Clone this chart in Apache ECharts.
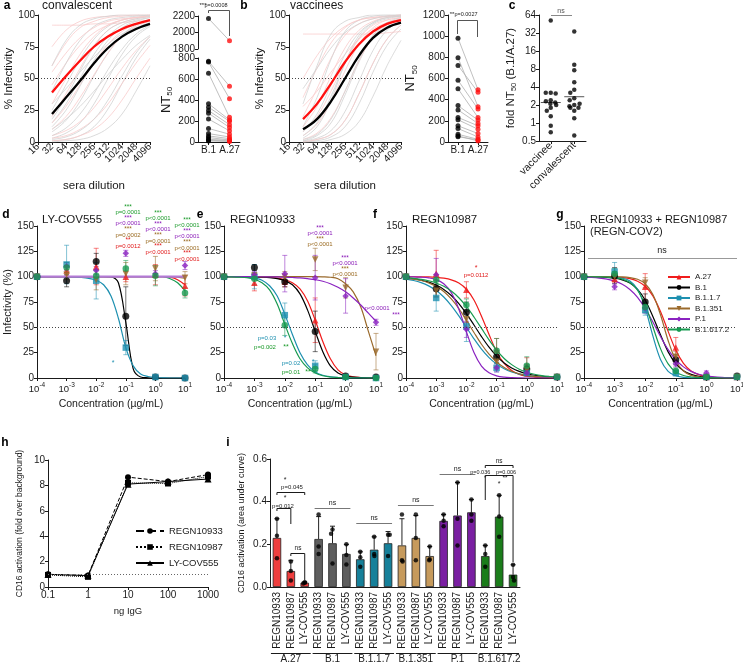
<!DOCTYPE html>
<html><head><meta charset="utf-8">
<script src="https://cdn.jsdelivr.net/npm/echarts@6/dist/echarts.min.js"></script>
<style>html,body{margin:0;padding:0;background:#fff}#c{width:743px;height:666px}</style>
</head><body><div id="c"></div><script>
const FONT = '"Liberation Sans", Arial, sans-serif';
const INK = '#1a1a1a';

// ---------- panels a / b : sera neutralisation ----------
const DILUTIONS = [32, 64, 128, 256, 512, 1024, 2048, 4096];
const convMeanB1 = [22, 35, 48, 62, 74, 83, 89, 93];
const convMeanA27 = [39, 52, 64, 75, 83, 89, 93, 96];
const convIndivB1 = [
  [1,2,5,12,26,46,66,81],[3,7,15,30,50,69,83,91],[8,17,32,52,70,84,92,96],
  [15,30,50,69,83,92,96,98],[25,45,65,81,91,96,98,99],[40,62,80,91,96,98,99,100],
  [60,80,92,97,99,100,100,100],[0,1,2,5,11,22,40,60],[10,18,28,40,53,65,76,84],
  [5,11,22,38,57,73,85,92],[18,35,56,75,88,94,97,99],[2,4,9,18,33,52,70,83],
  [30,42,55,67,77,85,90,94],[12,25,44,64,80,90,95,98]
];
const convIndivA27 = [
  [60,78,90,95,98,99,100,100],[92,92,92,93,93,94,95,96],[75,88,95,98,99,100,100,100],
  [20,38,58,76,88,94,97,99],[45,62,76,86,92,96,98,99],[10,20,35,53,70,83,91,95],
  [5,9,16,27,42,58,72,83],[1,2,5,10,19,33,50,66],[30,50,69,83,92,96,98,99],
  [3,5,10,18,30,46,62,76],[55,70,82,90,95,97,98,99],[15,28,45,62,77,87,93,96]
];
const vacMeanB1 = [10, 18, 32, 50, 68, 82, 90, 94];
const vacMeanA27 = [18, 30, 46, 63, 77, 87, 93, 96];
const vacIndivB1 = [
  [0,1,4,12,30,55,76,89],[1,5,15,37,63,83,93,97],[3,12,33,62,84,94,98,99],
  [12,35,65,87,96,99,100,100],[30,60,85,95,98,100,100,100],[0,2,6,17,38,62,81,92],
  [1,3,9,24,48,72,88,95],[5,15,36,62,82,93,97,99],[0,0,2,6,16,36,60,80],
  [42,58,74,86,93,97,99,100],[8,22,45,69,86,94,98,99],[2,6,18,40,65,84,94,98]
];
const vacIndivA27 = [
  [85,85,85,85,85,85,86,87],[20,42,66,84,93,97,99,100],[35,58,78,90,96,98,99,100],
  [5,14,32,56,77,90,96,98],[12,28,52,74,88,95,98,99],[2,7,19,40,64,82,92,97],
  [0,2,6,17,38,62,81,92],[50,68,82,91,96,98,99,100],[8,20,40,63,81,92,96,98],
  [28,40,55,69,81,89,94,97]
];
const NT_CATS = ['B.1', 'A.27'];
const convNT50B1 = [2170, 768, 761, 655, 365, 332, 300, 274, 219, 129, 80, 58, 42, 26, 16, 10];
const convNT50A27 = [1900, 532, 413, 235, 210, 197, 165, 139, 106, 74, 48, 32, 20, 15, 10, 5];
const vacNT50B1 = [981, 796, 723, 583, 503, 344, 303, 232, 210, 153, 127, 73, 57, 50];
const vacNT50A27 = [494, 334, 471, 312, 232, 207, 175, 153, 121, 80, 48, 25, 10, 20];

// ---------- panel c ----------
const FOLD_CATS = ['vaccinee', 'convalescent'];
const foldVaccinee = [52, 3.2, 3.2, 3.1, 2.4, 2.3, 2.2, 2.0, 1.8, 1.6, 1.3, 0.9, 0.7, 2.1];
const foldConvalescent = [34, 9.4, 7.6, 4.8, 3.6, 3.2, 2.6, 2.4, 2.0, 1.9, 1.8, 1.8, 1.6, 1.2, 0.62, 2.1];
const foldMean = [2.2, 2.75];

// ---------- panels d-g : antibody neutralisation ----------
const VARIANTS = ['A.27', 'B.1', 'B.1.1.7', 'B.1.351', 'P.1', 'B.1.617.2'];
const CONC = [1e-4, 1e-3, 1e-2, 1e-1, 1, 10];
const CURVE_X = [1e-4,1.78e-4,3.16e-4,5.62e-4,1e-3,1.78e-3,3.16e-3,5.62e-3,1e-2,1.78e-2,3.16e-2,5.62e-2,1e-1,1.78e-1,3.16e-1,5.62e-1,1,1.78,3.16,5.62,10];

const dMean = [[100,106,110,100,102,91],[100,96,115,61,1,0],[100,112,96,30,1,0],[100,102,97,103,108,99],[100,110,106,123,103,111],[100,109,101,108,101,84]];
const dSD   = [[0,5,18,5,10,10],[0,6,8,29,1,0],[0,19,18,7,1,0],[0,5,10,11,12,6],[0,4,4,3,3,4],[0,5,5,8,10,5]];
const dCurve = [
  [100,100,100,100,100,100,100,100,100,100,100,100,100,100,100,100,100,100,99.5,97,92],
  [100,100,100,100,100,100,100,100,100,100,99.8,94,55,9,1,0.2,0,0,0,0,0],
  [100,100,100,100,99.8,99.6,99.2,98.3,96.5,92,81,59,30,12,4,1.5,0.5,0.2,0,0,0],
  [100,100,100,100,100,100,100,100,100,100,100,100,100,100,100,100,100,100,100,99.5,98.5],
  [100,100,100,100,100,100,100,100,100,100,100,100,100,100,100,100,100,100,100,100,100],
  [100,100,100,100,100,100,100,100,100,100,100,100,100,100,100,100,100,100,98,94,86]
];
const eMean = [[100,94,95,57,2,1],[100,109,95,46,2,1],[100,100,62,12,1,0],[100,101,100,117,89,26],[100,102,103,99,81,55],[100,98,52,9,1,0]];
const eSD   = [[0,8,5,22,1,0],[0,3,5,20,1,0],[0,12,12,5,1,0],[0,3,5,11,10,18],[0,3,18,22,17,3],[0,6,10,4,1,0]];
const eCurve = [
  [100,100,100,100,99.9,99.7,99.3,98.6,97,94,88,76,57,36,19,8,3,1.2,0.5,0.2,0],
  [100,100,100,99.9,99.8,99.5,99,98,96,92,83,67,46,26,12,5,2,0.8,0.3,0.1,0],
  [100,99.9,99.7,99.3,98.5,96.5,91,81,63,43,25,13,6,2.7,1.2,0.5,0.2,0,0,0,0],
  [100,100,100,100,100,100,100,100,100,100,100,100,100,99.8,99.4,98,93,85,70,46,22],
  [100,100,100,100,100,99.9,99.8,99.7,99.5,99.2,98.8,98,97,95.5,93,89.5,85,79,72,64,56],
  [100,99.8,99.5,99,97.5,94,87,73,53,34,19,10,5,2.2,1,0.4,0.2,0,0,0,0]
];
const fMean = [[100,103,87,28,12,1],[100,88,65,21,9,1],[100,79,51,10,5,1],[100,86,58,16,8,1],[100,102,48,10,5,1],[100,97,72,27,12,1]];
const fSD   = [[0,23,8,11,8,0],[0,8,10,6,4,0],[0,13,15,4,3,0],[0,6,8,5,4,0],[0,16,8,4,3,0],[0,5,6,12,9,0]];
const fCurve = [
  [100,99.9,99.8,99.7,99.3,98.5,96.9,93.7,87.6,77,61,43,26,14.4,7.4,3.6,1.8,0.9,0.4,0.2,0.1],
  [98.6,97.8,96.5,94.6,91.7,87.4,81.4,73.4,63.5,52.3,40.9,30.4,21.6,14.8,9.9,6.5,4.2,2.7,1.7,1.1,0.7],
  [97.5,96.2,94.1,90.9,86.3,79.9,71.5,61.3,50,38.7,28.5,20.1,13.7,9.1,5.9,3.8,2.5,1.6,1,0.6,0.4],
  [98.5,97.6,96.2,93.9,90.4,85.3,78,68.5,57.1,44.9,33.3,23.5,15.8,10.3,6.6,4.2,2.6,1.6,1,0.6,0.4],
  [99.9,99.8,99.5,98.8,97.1,93,84.2,67.9,45.7,25.1,11.8,5.1,2.1,0.8,0.3,0.1,0,0,0,0,0],
  [99,98.4,97.4,96,93.8,90.5,85.8,79.2,70.6,60.2,48.9,37.6,27.5,19.3,13.2,8.7,5.7,3.7,2.3,1.5,1]
];
const gMean = [[100,98,90,30,1,1],[100,101,75,18,1,2],[100,105,67,5,1,1],[100,100,94,21,1,1],[100,90,69,14,5,1],[100,103,70,7,1,1]];
const gSD   = [[0,4,13,10,1,0],[0,8,8,5,1,1],[0,9,5,3,1,0],[0,5,5,5,1,0],[0,3,5,3,2,0],[0,5,5,3,1,0]];
const gCurve = [
  [100,100,99.9,99.8,99.6,99.1,98,95.5,90.5,81,65.6,46,27.5,14.5,7,3.3,1.5,0.7,0.3,0.1,0.1],
  [99.9,99.8,99.7,99.3,98.5,96.9,93.7,87.4,76.8,60.8,42.6,25.8,14.2,7.2,3.6,1.7,0.8,0.4,0.2,0.1,0.1],
  [100,100,100,99.9,99.6,98.6,95.7,87.6,69.1,41.5,18.3,6.6,2.2,0.7,0.2,0.1,0,0,0,0,0],
  [100,100,100,100,99.9,99.7,99,97.4,93,82.4,62.4,37,17.3,6.9,2.6,1,0.4,0.1,0,0,0],
  [99.5,99.2,98.6,97.5,95.6,92.5,87.4,79.6,68.6,55.2,40.9,28,18,11,6.5,3.7,2.1,1.2,0.7,0.4,0.2],
  [100,99.9,99.8,99.6,99,97.6,94.2,86.6,72,50.6,29,14,6,2.5,1,0.4,0.2,0.1,0,0,0]
];

// ---------- panel h ----------
const H_X = [0.1, 1, 10, 100, 1000];
const hREGN10933 = [1.0, 0.9, 8.65, 8.3, 8.85];
const hREGN10987 = [0.95, 0.8, 8.2, 8.15, 8.7];
const hLYCOV555 = [1.0, 0.9, 8.1, 8.3, 8.5];

// ---------- panel i ----------
const I_ABS = ['REGN10933', 'REGN10987', 'LY-COV555'];
const I_GROUPS = ['A.27', 'B.1', 'B.1.1.7', 'B.1.351', 'P.1', 'B.1.617.2'];
const iMean = [0.23,0.075,0.02, 0.225,0.205,0.155, 0.13,0.175,0.205, 0.195,0.23,0.145, 0.31,0.335,0.35, 0.145,0.33,0.058];
const iSD   = [0.09,0.05,0.004, 0.105,0.08,0.045, 0.035,0.06,0.055, 0.125,0.105,0.045, 0.03,0.155,0.06, 0.05,0.1,0.046];
const iPoints = [[0.32,0.24,0.135],[0.12,0.075,0.03],[0.022,0.02,0.016],[0.34,0.19,0.155],[0.27,0.25,0.11],[0.2,0.15,0.105],
  [0.165,0.14,0.095],[0.235,0.155,0.145],[0.245,0.245,0.145],[0.34,0.125,0.12],[0.34,0.23,0.125],[0.19,0.13,0.125],
  [0.34,0.31,0.285],[0.49,0.32,0.195],[0.41,0.34,0.31],[0.195,0.155,0.095],[0.43,0.33,0.235],[0.104,0.047,0.03]];

// ================== styling ==================
const VCOLOR = ['#f01c1c', '#000000', '#1e90b0', '#9a6a2c', '#8a22c0', '#179a50'];
const VSYMBOL = ['triangle', 'circle', 'rect', 'path://M0,0 L10,0 L5,9 Z', 'diamond', 'circle'];
const BARCOLOR = ['#ef3e3e', '#5e5e5e', '#16809a', '#c69a5c', '#7a1fa2', '#1b7d1b'];

function merge(a, b) {
  const o = Array.isArray(a) ? a.slice() : Object.assign({}, a);
  for (const k in b) {
    if (b[k] && typeof b[k] === 'object' && !Array.isArray(b[k]) && a && typeof a[k] === 'object' && !Array.isArray(a[k])) o[k] = merge(a[k], b[k]);
    else o[k] = b[k];
  }
  return o;
}
const plain = v => String(Math.round(v * 1000) / 1000);
const AX = {
  axisLine: { show: true, onZero: false, lineStyle: { color: INK, width: 1 } },
  axisTick: { show: true, length: 3, lineStyle: { color: INK, width: 1 } },
  axisLabel: { fontFamily: FONT, fontSize: 10, color: INK, margin: 3, hideOverlap: false, showMinLabel: true, showMaxLabel: true },
  splitLine: { show: false },
  nameTextStyle: { fontFamily: FONT, fontSize: 11, color: INK }
};
const ax = (o) => merge(AX, o);
const powRich = { b: { fontFamily: FONT, fontSize: 9.5, color: INK }, s: { fontFamily: FONT, fontSize: 6.5, color: INK, padding: [0, 0, 7, 0] } };
const powLabel = (v) => '{b|10}{s|' + Math.round(Math.log10(v)) + '}';

const grids = [
  { left: 38, top: 15, width: 112, height: 127 },   // 0 a curves
  { left: 198, top: 16, width: 42, height: 33 },    // 1 a NT top
  { left: 198, top: 58, width: 42, height: 84 },    // 2 a NT bottom
  { left: 289, top: 15, width: 112, height: 127 },  // 3 b curves
  { left: 448, top: 15, width: 40, height: 127 },   // 4 b NT
  { left: 539, top: 15, width: 47, height: 126 },   // 5 c
  { left: 37, top: 226, width: 148, height: 152 },  // 6 d
  { left: 224, top: 226, width: 152, height: 152 }, // 7 e
  { left: 406, top: 226, width: 151, height: 152 }, // 8 f
  { left: 584, top: 226, width: 153, height: 152 }, // 9 g
  { left: 48, top: 460, width: 160, height: 127 },  // 10 h
  { left: 270, top: 459, width: 250, height: 128 }  // 11 i
].map(g => Object.assign({ containLabel: false, outerBoundsMode: 'none' }, g));

const xAxes = [], yAxes = [];
// a, b curve panels
[0, 3].forEach(gi => {
  xAxes[gi] = ax({ gridIndex: gi, type: 'log', logBase: 2, min: 16, max: 4096, splitNumber: 8,
    axisLabel: { rotate: 45, formatter: plain, interval: 0 }, name: 'sera dilution', nameLocation: 'middle', nameGap: 38, nameTextStyle: { fontSize: 11.5 } });
  yAxes[gi] = ax({ gridIndex: gi, type: 'value', min: 0, max: 100, interval: 25,
    name: '% Infectivity', nameLocation: 'middle', nameGap: 23, nameTextStyle: { fontSize: 11.5 } });
});
const ntName = { rich: { a: { fontFamily: FONT, fontSize: 13, color: INK }, b: { fontFamily: FONT, fontSize: 8, color: INK, padding: [8, 0, 0, 0] } } };
// a NT50 broken axis
xAxes[1] = ax({ gridIndex: 1, type: 'category', data: NT_CATS, show: false });
yAxes[1] = ax({ gridIndex: 1, type: 'value', min: 1800, max: 2200, interval: 200, axisLabel: { formatter: plain } });
xAxes[2] = ax({ gridIndex: 2, type: 'category', data: NT_CATS, axisTick: { alignWithLabel: true }, axisLabel: { interval: 0 } });
yAxes[2] = ax({ gridIndex: 2, type: 'value', min: 0, max: 800, interval: 200, axisLabel: { formatter: plain },
  name: '{a|NT}{b|50}', nameLocation: 'middle', nameGap: 24, nameTextStyle: ntName });
// b NT50
xAxes[4] = ax({ gridIndex: 4, type: 'category', data: NT_CATS, axisTick: { alignWithLabel: true }, axisLabel: { interval: 0 } });
yAxes[4] = ax({ gridIndex: 4, type: 'value', min: 0, max: 1200, interval: 200, axisLabel: { formatter: plain },
  name: '{a|NT}{b|50}', nameLocation: 'middle', nameGap: 29, nameTextStyle: ntName });
// c
xAxes[5] = ax({ gridIndex: 5, type: 'category', data: FOLD_CATS, axisTick: { alignWithLabel: true },
  axisLabel: { rotate: 45, fontSize: 10.5, interval: 0 }, jitter: 14, jitterOverlap: false, jitterMargin: 0.5 });
yAxes[5] = ax({ gridIndex: 5, type: 'log', logBase: 2, min: 0.5, max: 64, splitNumber: 7, axisLabel: { formatter: plain },
  name: '{a|fold NT}{b|50}{a| (B.1/A.27)}', nameLocation: 'middle', nameGap: 21,
  nameTextStyle: { rich: { a: { fontFamily: FONT, fontSize: 11.5, color: INK }, b: { fontFamily: FONT, fontSize: 7.5, color: INK, padding: [7, 0, 0, 0] } } } });
// d-g
[6, 7, 8, 9].forEach(gi => {
  xAxes[gi] = ax({ gridIndex: gi, type: 'log', logBase: 10, min: 1e-4, max: 10,
    axisLabel: { formatter: powLabel, rich: powRich, margin: 4, interval: 0 },
    name: 'Concentration (µg/mL)', nameLocation: 'middle', nameGap: 21, nameTextStyle: { fontSize: 10.5 } });
  yAxes[gi] = ax({ gridIndex: gi, type: 'value', min: 0, max: 150, interval: 25,
    name: gi === 6 ? 'Infectivity (%)' : '', nameLocation: 'middle', nameGap: 23 });
});
// h
xAxes[10] = ax({ gridIndex: 10, type: 'log', logBase: 10, min: 0.1, max: 1000,
  axisLabel: { formatter: v => String(Number(v.toPrecision(3))) },
  name: 'ng IgG', nameLocation: 'middle', nameGap: 19, nameTextStyle: { fontSize: 9.5 } });
yAxes[10] = ax({ gridIndex: 10, type: 'value', min: 0, max: 10, interval: 2,
  name: 'CD16 activation (fold over background)', nameLocation: 'middle', nameGap: 24, nameTextStyle: { fontSize: 8.5 } });
// i
const I_CATS = [];
I_GROUPS.forEach(() => I_ABS.forEach(a => I_CATS.push(a)));
xAxes[11] = ax({ gridIndex: 11, type: 'category', data: I_CATS, axisTick: { show: false },
  axisLabel: { rotate: 90, fontSize: 10, interval: 0, margin: 5 }, jitter: 4, jitterOverlap: false, jitterMargin: 0 });
yAxes[11] = ax({ gridIndex: 11, type: 'value', min: 0, max: 0.6, interval: 0.2,
  axisLabel: { formatter: v => v.toFixed(1) },
  name: 'CD16 activation (area under curve)', nameLocation: 'middle', nameGap: 24, nameTextStyle: { fontSize: 9 } });
xAxes[12] = ax({ gridIndex: 11, type: 'category', data: I_GROUPS, position: 'bottom', offset: 63,
  axisLine: { show: false }, axisTick: { show: false }, axisLabel: { fontSize: 10, interval: 0, margin: 4 } });

// ================== series ==================
const series = [];
const dotted = { silent: true, symbol: 'none', label: { show: false }, lineStyle: { type: [1, 2], color: '#444', width: 1 } };

function errBars(xi, yi, data, color, capW, upOnly) {
  return {
    type: 'custom', xAxisIndex: xi, yAxisIndex: yi, data, silent: true, z: 2,
    renderItem(params, api) {
      const x = api.value(0), y = api.value(1), sd = api.value(2);
      const c = api.coord([x, y]), hi = api.coord([x, y + sd]), lo = api.coord(upOnly ? [x, y] : [x, y - sd]);
      const st = { stroke: color, lineWidth: 1 };
      const ch = [
        { type: 'line', shape: { x1: c[0], y1: hi[1], x2: c[0], y2: lo[1] }, style: st },
        { type: 'line', shape: { x1: c[0] - capW, y1: hi[1], x2: c[0] + capW, y2: hi[1] }, style: st }
      ];
      if (!upOnly) ch.push({ type: 'line', shape: { x1: c[0] - capW, y1: lo[1], x2: c[0] + capW, y2: lo[1] }, style: st });
      return { type: 'group', children: ch };
    }
  };
}

// panel d-g
function antibodyPanel(gi, means, sds, curves) {
  const out = [];
  VARIANTS.forEach((v, k) => {
    out.push({
      type: 'line', name: v, xAxisIndex: gi, yAxisIndex: gi, smooth: 0.35, showSymbol: false,
      symbol: VSYMBOL[k], symbolSize: 6, silent: true, z: gi === 6 && k === 4 ? 3.5 : 3,
      data: CURVE_X.map((x, i) => [x, curves[k][i]]),
      lineStyle: { color: gi === 6 && k === 4 ? '#b47ad6' : VCOLOR[k], width: k === 4 && gi === 6 ? 2.4 : 1.2 }, itemStyle: { color: VCOLOR[k] },
      markLine: k === 0 ? Object.assign({ data: [{ yAxis: 50 }] }, dotted) : undefined
    });
  });
  VARIANTS.forEach((v, k) => {
    const ec = echarts.color.modifyAlpha(VCOLOR[k], 0.55);
    out.push(errBars(gi, gi, CONC.map((x, i) => [x, means[k][i], sds[k][i]]).filter(d => d[2] > 0), ec, 2.5, false));
  });
  VARIANTS.forEach((v, k) => {
    out.push({
      type: 'scatter', xAxisIndex: gi, yAxisIndex: gi, symbol: VSYMBOL[k], symbolSize: k === 1 ? 7 : 6.5, silent: true, z: 4,
      data: CONC.map((x, i) => [x, means[k][i]]), itemStyle: { color: VCOLOR[k] }
    });
  });
  return out;
}
// g first so the legend takes its styles from the g curves
series.push(...antibodyPanel(9, gMean, gSD, gCurve));
series.push(...antibodyPanel(6, dMean, dSD, dCurve));
series.push(...antibodyPanel(7, eMean, eSD, eCurve));
series.push(...antibodyPanel(8, fMean, fSD, fCurve));

// panels a, b curves
function serumCurves(gi, indivB1, indivA27, meanB1, meanA27) {
  const mk = (arr, color, w, z) => ({
    type: 'line', xAxisIndex: gi, yAxisIndex: gi, smooth: 0.4, showSymbol: false, silent: true, z,
    data: DILUTIONS.map((d, i) => [d, arr[i]]), lineStyle: { color, width: w }
  });
  const n = Math.max(indivB1.length, indivA27.length);
  for (let i = 0; i < n; i++) {
    if (indivB1[i]) series.push(mk(indivB1[i], '#d2d2d2', 0.8, 1));
    if (indivA27[i]) series.push(mk(indivA27[i], '#f9cccc', 0.8, 1));
  }
  const b = mk(meanB1, '#000', 2.3, 5);
  b.markLine = Object.assign({ data: [{ yAxis: 50 }] }, dotted);
  series.push(b);
  series.push(mk(meanA27, '#ff1010', 2.3, 5));
}
serumCurves(0, convIndivB1, convIndivA27, convMeanB1, convMeanA27);
serumCurves(3, vacIndivB1, vacIndivA27, vacMeanB1, vacMeanA27);

// NT50 pairs
function pairLines(gi, pairs) {
  return {
    type: 'custom', xAxisIndex: gi, yAxisIndex: gi, data: pairs, silent: true, z: 1,
    renderItem(params, api) {
      const p1 = api.coord([0, api.value(0)]), p2 = api.coord([1, api.value(1)]);
      return { type: 'line', shape: { x1: p1[0], y1: p1[1], x2: p2[0], y2: p2[1] }, style: { stroke: '#b0b0b0', lineWidth: 0.8 } };
    }
  };
}
function ntPoints(gi, b1, a27) {
  series.push({ type: 'scatter', xAxisIndex: gi, yAxisIndex: gi, symbolSize: 5, silent: true, z: 3,
    data: b1.map(v => [0, v]), itemStyle: { color: '#000' } });
  series.push({ type: 'scatter', xAxisIndex: gi, yAxisIndex: gi, symbolSize: 5, silent: true, z: 3,
    data: a27.map(v => [1, v]), itemStyle: { color: '#ff1010' } });
}
const convPairs = convNT50B1.map((v, i) => [v, convNT50A27[i]]);
series.push(pairLines(1, convPairs.filter(p => p[0] >= 1800)));
series.push(pairLines(2, convPairs.filter(p => p[0] < 1800)));
ntPoints(1, convNT50B1.filter(v => v >= 1800), convNT50A27.filter(v => v >= 1800));
ntPoints(2, convNT50B1.filter(v => v < 1800), convNT50A27.filter(v => v < 1800));
series.push(pairLines(4, vacNT50B1.map((v, i) => [v, vacNT50A27[i]])));
ntPoints(4, vacNT50B1, vacNT50A27);

// panel c
series.push({ type: 'scatter', xAxisIndex: 5, yAxisIndex: 5, symbolSize: 4.5, silent: true,
  data: foldVaccinee.map(v => [0, v]), itemStyle: { color: '#000' } });
series.push({ type: 'scatter', xAxisIndex: 5, yAxisIndex: 5, symbolSize: 4.5, silent: true,
  data: foldConvalescent.map(v => [1, v]), itemStyle: { color: '#000' } });
series.push({
  type: 'custom', xAxisIndex: 5, yAxisIndex: 5, silent: true, data: foldMean.map((m, i) => [i, m]),
  renderItem(params, api) {
    const c = api.coord([api.value(0), api.value(1)]);
    return { type: 'line', shape: { x1: c[0] - 10, y1: c[1], x2: c[0] + 10, y2: c[1] }, style: { stroke: '#555', lineWidth: 1 } };
  }
});

// panel h
const hDefs = [['REGN10933', hREGN10933, 'circle', 'dashed', 6], ['REGN10987', hREGN10987, 'rect', 'dotted', 6], ['LY-COV555', hLYCOV555, 'triangle', 'solid', 7]];
hDefs.forEach((d, k) => {
  series.push({
    type: 'line', name: d[0], xAxisIndex: 10, yAxisIndex: 10, symbol: d[2], symbolSize: d[4], silent: true,
    data: H_X.map((x, i) => [x, d[1][i]]), lineStyle: { color: '#000', width: 1, type: d[3] }, itemStyle: { color: '#000' },
    markLine: k === 0 ? Object.assign({ data: [{ yAxis: 1 }] }, dotted, { lineStyle: { type: [1, 2], color: '#666', width: 1 } }) : undefined
  });
});

// panel i
series.push({
  type: 'bar', xAxisIndex: 11, yAxisIndex: 11, barWidth: 8.5, silent: true,
  data: iMean.map((v, i) => ({ value: v, itemStyle: { color: BARCOLOR[Math.floor(i / 3)] } })),
  itemStyle: { borderColor: '#222', borderWidth: 0.8 }
});
series.push(errBars(11, 11, iMean.map((m, i) => [i, m, iSD[i]]), '#222', 2.5, true));
const iDots = [];
iPoints.forEach((pts, i) => pts.forEach(v => iDots.push([i, v])));
series.push({ type: 'scatter', xAxisIndex: 11, yAxisIndex: 11, symbolSize: 4.5, silent: true, z: 5,
  data: iDots, itemStyle: { color: '#000' } });

// ================== annotations ==================
const G = [];
function T(x, y, text, size, color, align, weight) {
  G.push({ type: 'text', x, y, silent: true, z: 100, style: { text, fontSize: size, fontFamily: FONT, fontWeight: weight || 'normal', fill: color || INK, align: align || 'center', verticalAlign: 'middle' } });
}
function L(x1, y1, x2, y2, color, w) {
  G.push({ type: 'line', silent: true, z: 100, shape: { x1, y1, x2, y2 }, style: { stroke: color || INK, lineWidth: w || 1 } });
}
// panel letters and titles
[['a', 7, 6], ['b', 244, 6], ['c', 512, 6], ['d', 6, 215], ['e', 200, 215], ['f', 375, 215], ['g', 560, 215], ['h', 5, 443], ['i', 228, 443]]
  .forEach(p => T(p[1], p[2], p[0], 12, '#000', 'center', 'bold'));
T(42, 6, 'convalescent', 12, INK, 'left');
T(290, 6, 'vaccinees', 12, INK, 'left');
T(42, 220, 'LY-COV555', 11.5, INK, 'left');
T(230, 220, 'REGN10933', 11.5, INK, 'left');
T(412, 220, 'REGN10987', 11.5, INK, 'left');
T(590, 220, 'REGN10933 + REGN10987', 11, INK, 'left');
T(590, 232, '(REGN-COV2)', 11, INK, 'left');

// NT50 significance
L(208.5, 10.5, 229.5, 10.5, '#555'); L(208.5, 10.5, 208.5, 13, '#555'); L(229.5, 10.5, 229.5, 36, '#555');
T(203, 5, '***', 6, INK); T(216, 5, 'p=0.0008', 5.5, INK);
L(457.5, 20.5, 477.5, 20.5, '#555'); L(457.5, 20.5, 457.5, 34, '#555'); L(477.5, 20.5, 477.5, 37, '#555');
T(452, 14, '**', 6, INK); T(466, 14, 'p=0.0027', 5.5, INK);
// c ns
L(551, 15.5, 572, 15.5, '#888'); T(561, 11, 'ns', 7, '#555');

// d annotations
const CG = '#1a9a2a', CP = '#8a1ab8', CB = '#9a6a20', CR = '#e01818';
function stack(x, y0, items) {
  items.forEach((it, j) => T(x, y0 + j * 5.6, it[0], j % 2 === 0 ? 6.5 : 6, it[1]));
}
stack(128, 207, [['***', CG], ['p=0.0001', CG], ['***', CP], ['p<0.0001', CP], ['***', CB], ['p=0.0002', CB], ['**', CR], ['p=0.0012', CR]]);
stack(158, 213, [['***', CG], ['p<0.0001', CG], ['***', CP], ['p<0.0001', CP], ['***', CB], ['p=0.0001', CB], ['***', CR], ['p<0.0001', CR]]);
stack(187, 220, [['***', CG], ['p<0.0001', CG], ['***', CP], ['p<0.0001', CP], ['***', CB], ['p<0.0001', CB], ['***', CR], ['p<0.0001', CR]]);
T(113, 363, '*', 7, VCOLOR[2]);
// e annotations
stack(320, 228, [['***', CP], ['p<0.0001', CP], ['***', CB], ['p<0.0001', CB]]);
stack(345, 258, [['***', CP], ['p<0.0001', CP], ['***', CB], ['p<0.0001', CB]]);
T(377, 308, 'p<0.0001', 6, CP); T(396, 315, '***', 6.5, CP);
T(267, 338, 'p=0.03', 6, VCOLOR[2]); T(285, 338, '*', 7, VCOLOR[2]);
T(265, 347, 'p=0.002', 6, CG); T(286, 347, '**', 7, CG);
T(291, 363, 'p=0.02', 6, VCOLOR[2]); T(313, 362, '*', 7, VCOLOR[2]);
T(291, 372, 'p=0.01', 6, CG); T(308, 372, '**', 7, CG);
// f annotation
T(476, 268, '*', 7, CR); T(476, 275, 'p=0.0112', 6, CR);
// g ns
L(588, 258.5, 737, 258.5, '#999'); T(662, 251, 'ns', 9, INK);

// i brackets
const I_LEFT = 270, I_W = 250, CW = I_W / 18;
const cx = i => I_LEFT + (i + 0.5) * CW;
I_GROUPS.forEach((g, gi) => L(cx(gi * 3) - 6, 653.5, cx(gi * 3 + 2) + 6, 653.5, INK, 1));
// A.27
L(cx(0), 492.5, cx(2), 492.5, INK); L(cx(0), 492.5, cx(0), 495, INK); L(cx(2), 492.5, cx(2), 495, INK);
T(285, 480, '*', 7); T(292, 487, 'p=0.045', 6);
L(cx(0), 508.5, cx(1), 508.5, INK); L(cx(1), 508.5, cx(1), 524, INK); L(cx(0), 508.5, cx(0), 511, INK);
T(285, 498, '*', 7); T(283, 506, 'p=0.012', 6);
L(cx(1), 553.5, cx(2), 553.5, INK); L(cx(1), 553.5, cx(1), 556, INK); L(cx(2), 553.5, cx(2), 580, INK);
T(298, 548, 'ns', 6.5);
// ns over groups
[[1, 508.5], [2, 523.5], [3, 505.5], [4, 474.5]].forEach(p => {
  L(cx(p[0] * 3) - 4, p[1], cx(p[0] * 3 + 2) + 4, p[1], '#777'); T((cx(p[0] * 3) + cx(p[0] * 3 + 2)) / 2, p[1] - 5, 'ns', 7);
});
// B.1.617.2
L(cx(15), 465.5, cx(17), 465.5, INK); L(cx(15), 465.5, cx(15), 468, INK); L(cx(17), 465.5, cx(17), 468, INK);
T((cx(15) + cx(17)) / 2, 461, 'ns', 6.5);
L(cx(15), 475.5, cx(17), 475.5, INK); L(cx(15), 475.5, cx(15), 500, INK); L(cx(17), 475.5, cx(17), 562, INK);
T(cx(16), 484, '*', 7);
T(cx(15) - 5, 472, 'p=0.036', 5.5); T(cx(15), 478, '*', 6.5);
T(cx(17) - 7, 472, 'p=0.006', 5.5); T(cx(17) - 8, 478, '**', 6.5);

const option = {
  animation: false,
  backgroundColor: '#ffffff',
  textStyle: { fontFamily: FONT },
  grid: grids,
  xAxis: xAxes,
  yAxis: yAxes,
  legend: [
    { data: VARIANTS, orient: 'vertical', left: 662, top: 268, itemWidth: 22, itemHeight: 6, itemGap: 2.5, selectedMode: false,
      textStyle: { fontFamily: FONT, fontSize: 8, color: INK } },
    { data: ['REGN10933', 'REGN10987', 'LY-COV555'], orient: 'vertical', left: 130, top: 521, itemWidth: 28, itemHeight: 7, itemGap: 6, selectedMode: false,
      textStyle: { fontFamily: FONT, fontSize: 9.5, color: INK } }
  ],
  series,
  graphic: { elements: G }
};
const chart = echarts.init(document.getElementById('c'), null, { renderer: 'canvas', width: 743, height: 666 });
chart.setOption(option);
</script></body></html>
